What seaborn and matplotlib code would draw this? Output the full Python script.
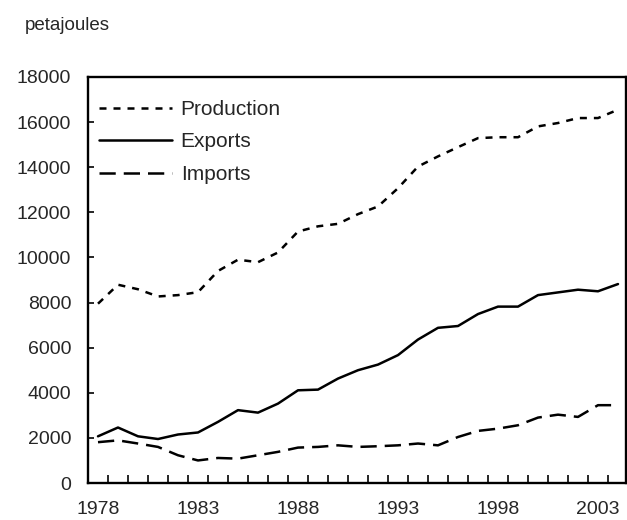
# import
import matplotlib
matplotlib.use('Agg')
import matplotlib.pyplot as plt
import seaborn as sns
import pandas as pd

# data (petajoules)
years = list(range(1978, 2005))
production = [7950, 8790, 8590, 8270, 8330, 8460, 9400, 9900, 9790, 10220, 11150, 11380,
              11490, 11920, 12260, 13070, 14030, 14480, 14890, 15290, 15330, 15330,
              15810, 15960, 16180, 16180, 16550]
exports = [2070, 2460, 2070, 1950, 2150, 2240, 2710, 3230, 3120, 3520, 4110, 4140,
           4630, 5000, 5250, 5670, 6360, 6880, 6960, 7490, 7820, 7820,
           8330, 8450, 8570, 8500, 8820]
imports = [1810, 1890, 1750, 1600, 1230, 1000, 1110, 1080, 1230, 1380, 1570, 1600,
           1670, 1600, 1630, 1670, 1750, 1670, 2040, 2310, 2410, 2560,
           2900, 3030, 2930, 3450, 3450]
series_names = ['Production', 'Exports', 'Imports']
label_years = [1978, 1983, 1988, 1993, 1998, 2003]

df = pd.DataFrame({'Year': years, 'Production': production, 'Exports': exports, 'Imports': imports})
df_long = df.melt(id_vars='Year', value_vars=series_names, var_name='Series', value_name='PJ')

sns.set_style('white')
plt.rcParams['font.family'] = ['Liberation Sans', 'DejaVu Sans']

fig = plt.figure(figsize=(6.27, 5.2), dpi=100)
ax = fig.add_axes([88 / 627, 1 - 483 / 520, 538 / 627, 406 / 520])

sns.lineplot(data=df_long, x='Year', y='PJ', hue='Series', style='Series',
             palette=['black', 'black', 'black'],
             dashes={'Production': (2.8, 2.8), 'Exports': '', 'Imports': (6.5, 3.2)},
             linewidth=1.8, ax=ax)

# axes config
ax.set_xlim(1977.5, 2004.4)
ax.set_ylim(0, 18000)
ax.set_yticks(range(0, 18001, 2000))
ax.set_xticks(label_years)
ax.set_xticks([y + 0.5 for y in years[:-1]], minor=True)
ax.tick_params(axis='x', which='major', length=0, pad=13, labelsize=14)
ax.tick_params(axis='x', which='minor', direction='in', length=5.5, width=1.4, bottom=True)
ax.tick_params(axis='y', direction='in', length=4, width=1.4, pad=12, labelsize=14, left=True)
ax.set_xlabel('')
ax.set_ylabel('')
for s in ax.spines.values():
    s.set_linewidth(1.7)
    s.set_color('black')

leg = ax.legend(loc='upper left', bbox_to_anchor=(0.0, 0.972), frameon=False, fontsize=15,
                handlelength=3.5, handletextpad=0.4, labelspacing=0.65, borderaxespad=0.15)
leg.set_title(None)

fig.text(25 / 627, 1 - 26 / 520, 'petajoules', fontsize=13.5, va='center', ha='left')

plt.savefig('out.png', dpi=100)
